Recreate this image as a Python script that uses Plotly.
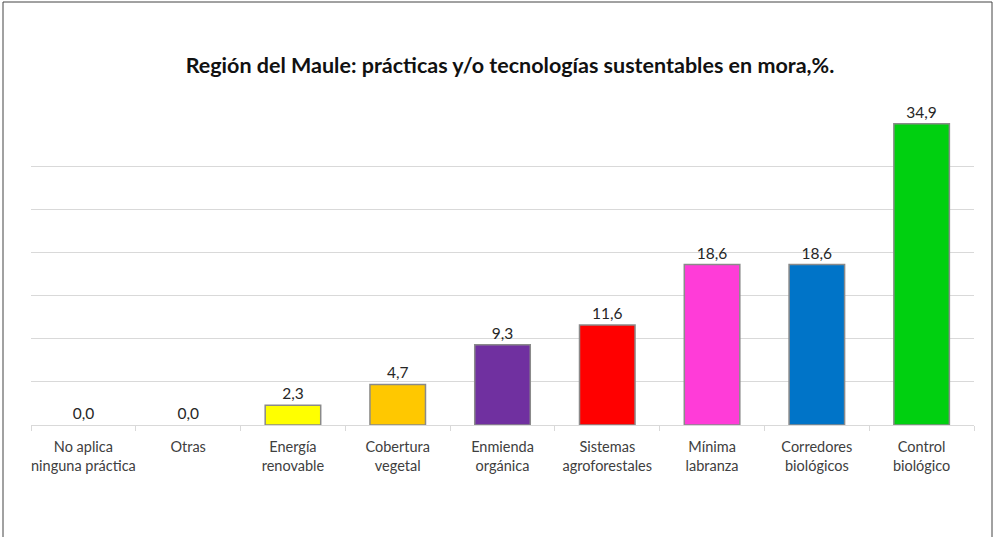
import plotly.graph_objects as go

categorias = [
    "No aplica<br>ninguna práctica",
    "Otras",
    "Energía<br>renovable",
    "Cobertura<br>vegetal",
    "Enmienda<br>orgánica",
    "Sistemas<br>agroforestales",
    "Mínima<br>labranza",
    "Corredores<br>biológicos",
    "Control<br>biológico",
]
porcentajes = [0.0, 0.0, 2.3, 4.7, 9.3, 11.6, 18.6, 18.6, 34.9]
colores = [
    "#FFFFFF", "#FFFFFF", "#FFFF00", "#FFC800", "#7030A0",
    "#FF0000", "#FF3CD8", "#0074C8", "#00D010",
]

W, H = 997, 537
left, right, top, bottom = 31, 974, 123, 425

fig = go.Figure()
fig.add_trace(
    go.Bar(
        x=categorias,
        y=porcentajes,
        marker={
            "color": colores,
            "line": {"color": ["rgba(0,0,0,0)"] * 2 + ["#8a8a8a"] * 7, "width": 1.5},
        },
        texttemplate="%{y:.1f}",
        textposition="outside",
        textfont={"family": "Lato, sans-serif", "size": 15.5, "color": "#262626"},
        cliponaxis=False,
        hoverinfo="skip",
    )
)

pw, ph = right - left, bottom - top
fig.add_shape(
    type="rect",
    xref="paper", yref="paper",
    x0=(3 - left) / pw, x1=(992 - left) / pw,
    y0=(bottom - 560) / ph, y1=(bottom - 2) / ph,
    line={"color": "#444444", "width": 1},
    layer="below",
)

fig.update_layout(
    width=W,
    height=H,
    separators=",.",
    margin={"l": left, "r": W - right, "t": top, "b": H - bottom},
    paper_bgcolor="white",
    plot_bgcolor="white",
    bargap=0.47,
    showlegend=False,
    title={
        "text": "<b>Región del Maule: prácticas y/o tecnologías sustentables en mora,%.</b>",
        "x": 510 / W,
        "xanchor": "center",
        "y": 1 - 65 / H,
        "yanchor": "middle",
        "font": {"family": "Lato, sans-serif", "size": 21.5, "color": "#111111"},
    },
)
fig.update_xaxes(
    automargin=False,
    tickangle=0,
    showgrid=False,
    showline=True,
    linecolor="#d9d9d9",
    linewidth=1,
    ticks="outside",
    tickson="boundaries",
    ticklen=5,
    tickcolor="#d9d9d9",
    ticklabelstandoff=9,
    tickfont={"family": "Lato, sans-serif", "size": 14.5, "color": "#404040"},
)
fig.update_yaxes(
    automargin=False,
    range=[0, 35],
    dtick=5,
    showgrid=True,
    gridcolor="#d9d9d9",
    showticklabels=False,
    zeroline=False,
)

# la página trae un margen de 8px en el body; se quita para que el lienzo ocupe la ventana
fig.write_html(
    "out.html",
    config={"displayModeBar": False},
    post_script="document.body.style.margin='0';",
)
